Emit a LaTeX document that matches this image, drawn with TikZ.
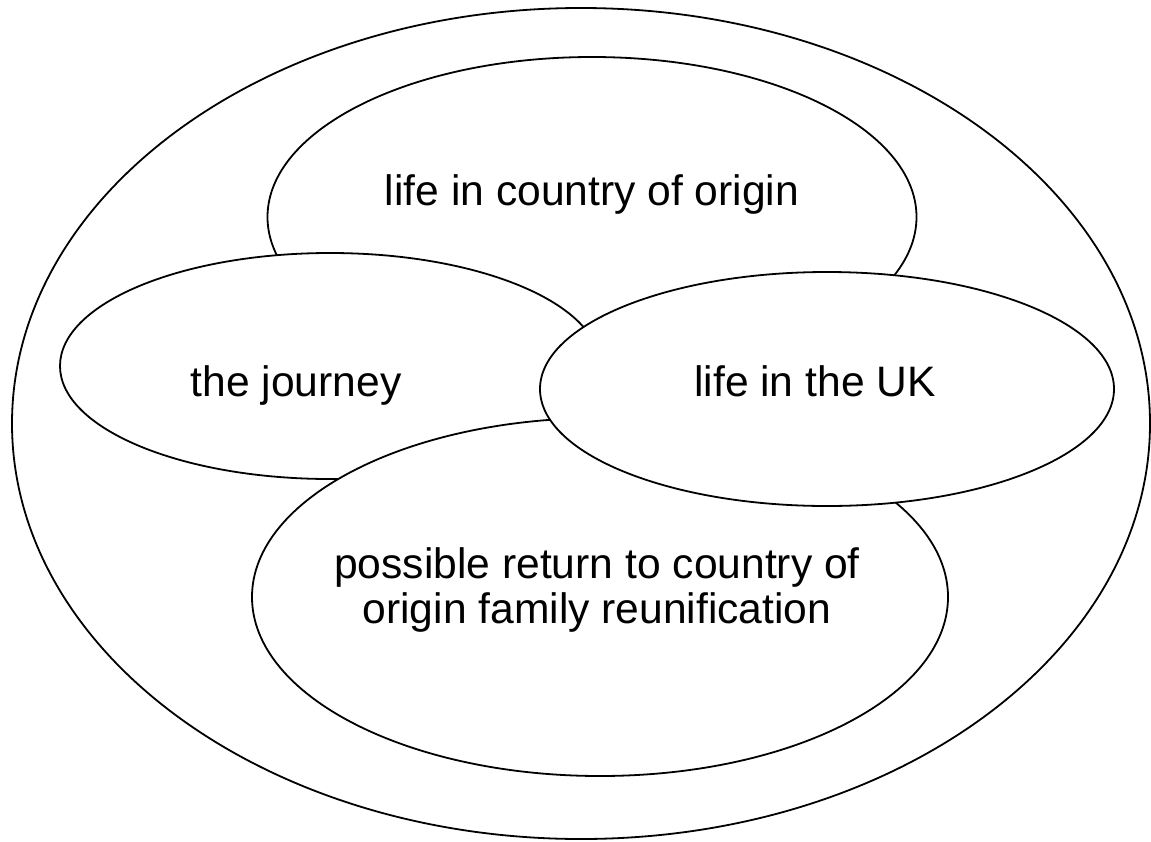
\documentclass[tikz,border=0pt]{standalone}
\usepackage{fontspec}
\setmainfont{Liberation Sans}
\usetikzlibrary{shapes.geometric}
\begin{document}
\begin{tikzpicture}[x=0.5pt,y=-0.5pt,
  blob/.style={draw=black,fill=white,line width=0.9pt,ellipse,inner sep=0pt},
  lbl/.style={font=\fontsize{21.3}{22.6}\selectfont,anchor=base,inner sep=0pt}]
\useasboundingbox (0,0) rectangle (1151,841);
\node[blob,minimum width=1138pt*0.5,minimum height=831pt*0.5] (outer) at (581,423.5) {};
\node[blob,minimum width=649pt*0.5,minimum height=320pt*0.5] (origin) at (592,217) {};
\node[blob,minimum width=540pt*0.5,minimum height=226pt*0.5] (journey) at (330,366) {};
\node[blob,minimum width=696pt*0.5,minimum height=358pt*0.5] (return) at (600,597) {};
\node[blob,minimum width=574pt*0.5,minimum height=234pt*0.5] (uk) at (827,389) {};
\node[lbl] (torigin) at (592,205) {life in country of origin};
\node[lbl] (tjourney) at (296,396) {the journey};
\node[lbl] (tuk) at (815,396) {life in the UK};
\node[lbl] (treturn1) at (597,578) {possible return to country of};
\node[lbl] (treturn2) at (597,623) {origin family reunification};
\end{tikzpicture}
\end{document}
